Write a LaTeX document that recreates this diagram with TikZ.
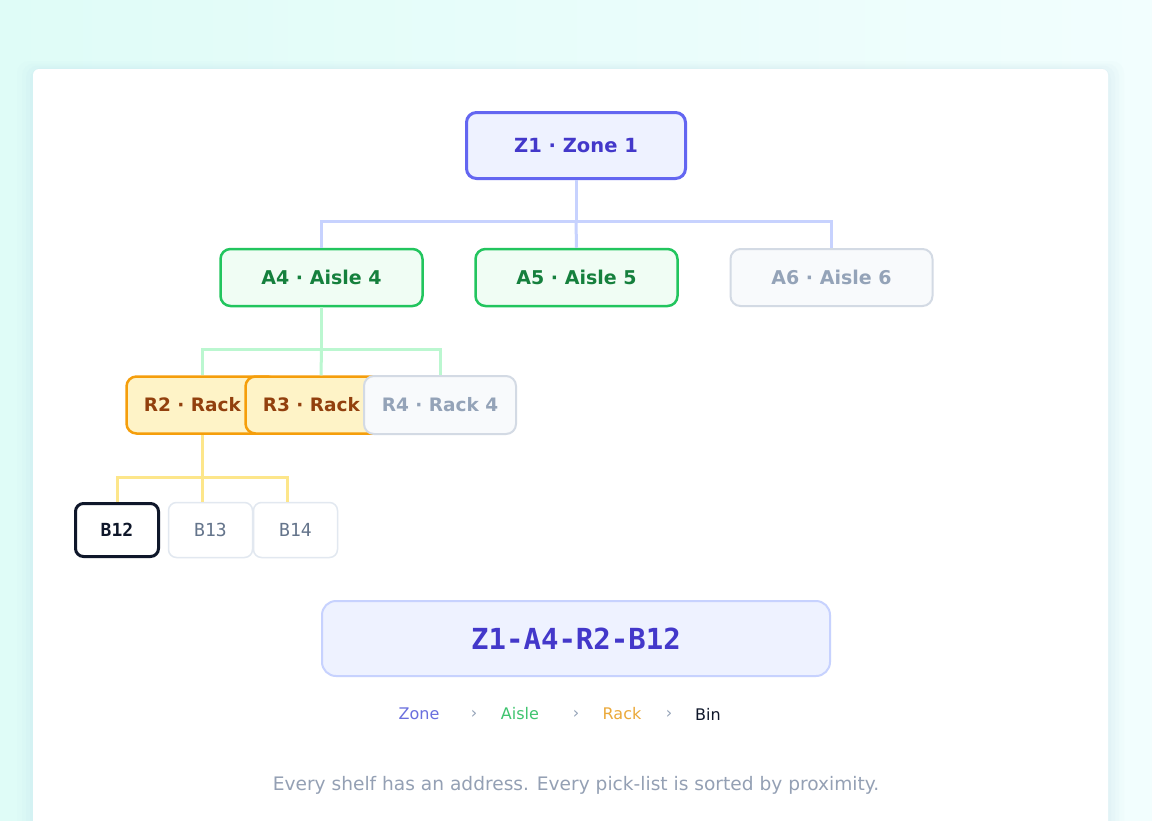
\documentclass[tikz,border=0pt]{standalone}
\usepackage{fontspec}
\setmainfont{DejaVu Sans}
\newfontfamily\codefont{DejaVu Sans Mono}
\definecolor{bgL}{HTML}{DFFCF7}
\definecolor{bgR}{HTML}{F2FEFE}
\definecolor{shd}{HTML}{B8D8E8}
\definecolor{indB}{HTML}{6366F1}
\definecolor{indF}{HTML}{EEF2FF}
\definecolor{indT}{HTML}{4338CA}
\definecolor{indL}{HTML}{C7D2FE}
\definecolor{grB}{HTML}{22C55E}
\definecolor{grF}{HTML}{F0FDF4}
\definecolor{grT}{HTML}{15803D}
\definecolor{grL}{HTML}{BBF7D0}
\definecolor{grLeg}{HTML}{3FC46F}
\definecolor{amB}{HTML}{F59E0B}
\definecolor{amF}{HTML}{FEF3C7}
\definecolor{amT}{HTML}{92400E}
\definecolor{amL}{HTML}{FDE68A}
\definecolor{amLeg}{HTML}{EBA93A}
\definecolor{slB}{HTML}{D3DAE4}
\definecolor{slF}{HTML}{F8FAFC}
\definecolor{slT}{HTML}{94A3B8}
\definecolor{slE}{HTML}{E2E8F0}
\definecolor{slM}{HTML}{64748B}
\definecolor{ink}{HTML}{0F172A}
\definecolor{legZ}{HTML}{6A6FDE}
\definecolor{foot}{HTML}{94A0B4}
\tikzset{
  nbox/.style={draw, rounded corners=10pt, inner sep=0pt, align=center},
  zbox/.style={nbox, draw=indB, fill=indF, text=indT, line width=3pt,
    minimum width=219pt, minimum height=66pt, font=\bfseries\fontsize{19.5}{20}\selectfont},
  abox/.style={nbox, draw=grB, fill=grF, text=grT, line width=2.5pt,
    minimum width=202pt, minimum height=57pt, font=\bfseries\fontsize{19}{20}\selectfont},
  gbox/.style={nbox, draw=slB, fill=slF, text=slT, line width=2pt,
    minimum width=202pt, minimum height=57pt, font=\bfseries\fontsize{19}{20}\selectfont},
  rbox/.style={nbox, draw=amB, fill=amF, text=amT, line width=2.5pt,
    minimum width=151pt, minimum height=57pt, font=\bfseries\fontsize{18.5}{20}\selectfont},
  rgbox/.style={nbox, draw=slB, fill=slF, text=slT, line width=2pt,
    minimum width=152pt, minimum height=58pt, font=\bfseries\fontsize{18.5}{20}\selectfont},
  binsel/.style={nbox, rounded corners=8pt, draw=ink, fill=white, text=ink, line width=3pt,
    minimum width=83pt, minimum height=53pt, font=\codefont\bfseries\fontsize{18}{20}\selectfont},
  bin/.style={nbox, rounded corners=8pt, draw=slE, fill=white, text=slM, line width=1.5pt,
    minimum width=84pt, minimum height=55pt, font=\codefont\fontsize{18}{20}\selectfont},
  codebox/.style={nbox, rounded corners=14pt, draw=indL, fill=indF, text=indT, line width=2pt,
    minimum width=508pt, minimum height=75pt, font=\codefont\bfseries\fontsize{29}{30}\selectfont},
  leg/.style={inner sep=0pt, font=\fontsize{16}{18}\selectfont},
  zl/.style={draw=indL, line width=3pt},
  gl/.style={draw=grL, line width=3pt},
  al/.style={draw=amL, line width=3pt},
}
\begin{document}
\begin{tikzpicture}[x=1pt, y=-1pt]
\useasboundingbox (0,0) rectangle (1152,820);
\shade[left color=bgL, right color=bgR] (0,0) rectangle (1152,820);
% card shadow
\foreach \s/\o in {16/0.05, 11/0.06, 7/0.07, 3/0.08}{
  \fill[shd, opacity=\o, rounded corners=12pt] (33-\s,69-\s*0.5) rectangle (1108+\s,840);
}
\fill[white, rounded corners=6pt] (33,69) rectangle (1108,840);

% nodes
\node[zbox] (Z1) at (576,145.5) {Z1 · Zone 1};
\node[abox] (A4) at (321.5,277.5) {A4 · Aisle 4};
\node[abox] (A5) at (576.5,277.5) {A5 · Aisle 5};
\node[gbox] (A6) at (831.5,277.5) {A6 · Aisle 6};

\coordinate (jz) at (576,221);
\draw[zl] (Z1.south) -- (jz);
\draw[zl] (A4.north) -- (A4.north |- jz) -- (A6.north |- jz) -- (A6.north);
\draw[zl] (jz) -- (A5.north);

\node[rbox] (R2) at (202,405) {R2 · Rack 2};
\node[rbox] (R3) at (321,405) {R3 · Rack 3};
\node[rgbox] (R4) at (440,405) {R4 · Rack 4};

\coordinate (ja) at (321.5,349);
\draw[gl] (A4.south) -- (ja);
\draw[gl] (R2.north) -- (R2.north |- ja) -- (R4.north |- ja) -- (R4.north);
\draw[gl] (ja) -- (R3.north);

\node[binsel] (B12) at (117,530) {B12};
\node[bin] (B13) at (210.5,530) {B13};
\node[bin] (B14) at (295.5,530) {B14};

\coordinate (jr) at (202,477);
\coordinate (t13) at ([xshift=-8.5pt]B13.north);
\coordinate (t14) at ([xshift=-8pt]B14.north);
\draw[al] (R2.south) -- (jr);
\draw[al] (B12.north) -- (B12.north |- jr) -- (t14 |- jr) -- (t14);
\draw[al] (jr) -- (t13);

\node[codebox] (code) at (576,638.5) {Z1-A4-R2-B12};

\node[leg, text=legZ] (lz) at (419,714) {Zone};
\node[leg, text=slT] (c1) at (474,714) {›};
\node[leg, text=grLeg] (la) at (520,714) {Aisle};
\node[leg, text=slT] (c2) at (576,714) {›};
\node[leg, text=amLeg] (lr) at (622,714) {Rack};
\node[leg, text=slT] (c3) at (669,714) {›};
\node[leg, text=ink] (lb) at (708,714) {Bin};

\node[inner sep=0pt, text=foot, font=\fontsize{18.6}{20}\selectfont] (note) at (576,785)
  {Every shelf has an address. Every pick-list is sorted by proximity.};
\end{tikzpicture}
\end{document}
